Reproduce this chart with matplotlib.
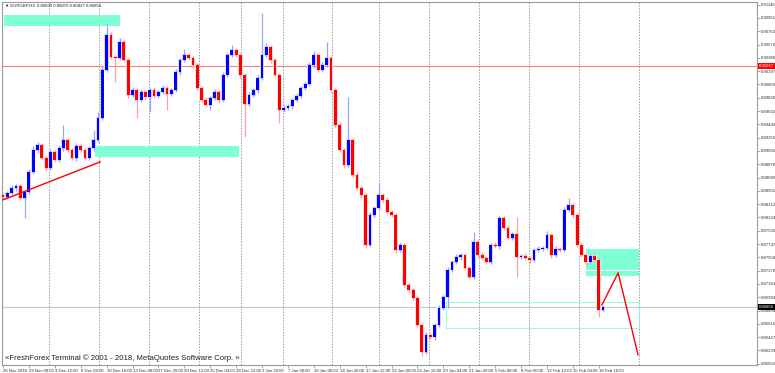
import matplotlib
matplotlib.use("Agg")
import matplotlib.pyplot as plt
from matplotlib.patches import Rectangle

# ---------------- data ----------------
symbol_info = "\u25bc EURGBP,H4  0.86830 0.86876 0.86827 0.86856"
copyright_text = "\u00abFreshForex Terminal \u00a9 2001 - 2018, MetaQuotes Software Corp. \u00bb"

first_open = 0.88444
closes = [
    0.88415, 0.88472, 0.88543, 0.88571, 0.88401, 0.88486, 0.88770, 0.89082, 0.89152, 0.88968,
    0.88826, 0.89053, 0.88940, 0.89110, 0.89223, 0.89082, 0.88968, 0.89138, 0.89082, 0.88968,
    0.89110, 0.89223, 0.89535, 0.90215, 0.90711, 0.90399, 0.90385, 0.90612, 0.90357, 0.89861,
    0.89932, 0.89790, 0.89903, 0.89833, 0.89932, 0.89847, 0.89903, 0.89960, 0.89875, 0.89932,
    0.90187, 0.90357, 0.90428, 0.90385, 0.90286, 0.89960, 0.89790, 0.89719, 0.89818, 0.89903,
    0.89790, 0.90144, 0.90428, 0.90499, 0.90428, 0.90144, 0.89733, 0.89861, 0.89932, 0.90102,
    0.90428, 0.90541, 0.90357, 0.90144, 0.89648, 0.89677, 0.89705, 0.89790, 0.89847, 0.89960,
    0.90017, 0.90286, 0.90428, 0.90215, 0.90286, 0.90385, 0.89932, 0.89436, 0.89082, 0.88869,
    0.89223, 0.88727, 0.88543, 0.88444, 0.87735, 0.88160, 0.88260, 0.88444, 0.88373, 0.88203,
    0.88160, 0.87665, 0.87735, 0.87169, 0.87098, 0.86984, 0.86602, 0.86219, 0.86460, 0.86432,
    0.86602, 0.86843, 0.86999, 0.87381, 0.87495, 0.87565, 0.87594, 0.87409, 0.87282, 0.87778,
    0.87594, 0.87551, 0.87495, 0.87735, 0.87721, 0.88118, 0.87976, 0.87835, 0.87891, 0.87565,
    0.87580, 0.87551, 0.87523, 0.87665, 0.87679, 0.87693, 0.87877, 0.87594, 0.87679, 0.87665,
    0.88231, 0.88302, 0.88160, 0.87735, 0.87594, 0.87495, 0.87580, 0.87523, 0.86814, 0.86856,
]
# wick lengths above / below the body, in pips
upper_wick = [
    3, 3, 4, 3, 3, 3, 4, 5, 4, 3,
    3, 4, 3, 4, 21, 3, 3, 4, 3, 3,
    3, 14, 8, 4, 16, 4, 3, 6, 3, 3,
    4, 3, 4, 3, 3, 4, 3, 4, 3, 3,
    4, 3, 8, 3, 3, 3, 3, 4, 3, 4,
    3, 4, 3, 7, 3, 3, 3, 4, 3, 4,
    60, 6, 3, 3, 3, 4, 3, 3, 4, 3,
    3, 4, 5, 3, 4, 23, 3, 3, 4, 3,
    61, 3, 4, 3, 3, 4, 3, 17, 3, 4,
    3, 3, 4, 3, 3, 3, 3, 3, 4, 3,
    3, 4, 3, 4, 3, 4, 3, 3, 3, 14,
    3, 4, 3, 3, 4, 3, 3, 4, 3, 24,
    3, 4, 3, 3, 4, 3, 6, 3, 4, 3,
    4, 10, 3, 3, 4, 3, 3, 4, 3, 3,
]
lower_wick = [
    3, 3, 3, 4, 3, 28, 3, 3, 4, 3,
    4, 3, 3, 3, 4, 3, 3, 4, 3, 3,
    3, 4, 3, 3, 3, 3, 34, 3, 3, 4,
    3, 25, 3, 4, 21, 3, 3, 3, 23, 3,
    3, 4, 3, 3, 4, 3, 3, 3, 7, 3,
    4, 3, 3, 3, 3, 4, 47, 3, 3, 4,
    3, 3, 4, 3, 18, 3, 3, 4, 3, 3,
    3, 3, 4, 3, 3, 3, 4, 3, 3, 4,
    3, 3, 3, 4, 4, 3, 3, 3, 4, 3,
    3, 4, 3, 3, 4, 3, 3, 6, 3, 3,
    4, 3, 3, 16, 3, 3, 4, 3, 3, 3,
    4, 3, 3, 3, 3, 4, 3, 3, 3, 28,
    3, 3, 4, 3, 3, 3, 3, 4, 3, 3,
    3, 3, 4, 3, 3, 5, 3, 3, 10, 3,
]

time_labels = [
    "26 Nov 2018", "29 Nov 08:00", "3 Dec 12:00", "6 Dec 04:00", "10 Dec 16:00",
    "13 Dec 08:00", "17 Dec 20:00", "20 Dec 12:00", "25 Dec 04:00", "28 Dec 12:00",
    "2 Jan 20:00", "7 Jan 08:00", "10 Jan 00:00", "14 Jan 20:00", "17 Jan 12:00",
    "22 Jan 00:00", "24 Jan 16:00", "29 Jan 04:00", "31 Jan 20:00", "5 Feb 08:00",
    "8 Feb 00:00", "12 Feb 12:00", "15 Feb 04:00", "18 Feb 16:00",
]
time_label_bars = [6 * k for k in range(len(time_labels))]
week_separators = [10.7, 22.2, 33.8, 45.4, 55.1, 64.8, 76.2, 87.1, 98.7, 110.3, 121.8, 133.4, 147.3]

price_top_label = 0.91140
price_bottom_label = 0.86050
n_price_labels = 28

red_level = 0.90267
bid_price = 0.86856

# zones: (bar_start, bar_end, price_high, price_low)
filled_zones = [
    (0.2, 27.1, 0.90994, 0.90839),
    (21.3, 54.7, 0.89138, 0.88982),
    (135.0, 147.3, 0.87674, 0.87381),
    (135.0, 147.3, 0.87367, 0.87296),
]
hollow_zone = (102.6, 147.3, 0.86928, 0.86559)
trend_bars = [0.0, 22.5]
trend_prices = [0.88373, 0.88911]
zigzag_bars = [138.75, 142.5, 147.1]
zigzag_prices = [0.86885, 0.87339, 0.86177]

# ---------------- figure ----------------
FONT = ["Liberation Sans", "DejaVu Sans"]
plt.rcParams["font.family"] = FONT
SMALL = 3.1

W, H = 775, 373
fig = plt.figure(figsize=(W / 100, H / 100), dpi=100)
fig.patch.set_facecolor("white")
ax_l, ax_r, ax_t, ax_b = 2, 757, 2, 365
ax = fig.add_axes([ax_l / W, 1 - ax_b / H, (ax_r - ax_l) / W, (ax_b - ax_t) / H])
ax.set_facecolor("white")

ax.set_xlim(-0.23, 174.66)
ymin, ymax = 0.86032, 0.91178
ax.set_ylim(ymin, ymax)

for s in ax.spines.values():
    s.set_color("#9a9a9a")
    s.set_linewidth(0.8)

# weekly separators
for xs in week_separators:
    ax.axvline(xs, color="#9a9a9a", lw=0.7, ls=(0, (1.5, 1.5)), zorder=1)

# zones
for x0, x1, ph, pl in filled_zones:
    ax.add_patch(Rectangle((x0, pl), x1 - x0, ph - pl, facecolor="#7fffd4",
                           edgecolor="none", zorder=2))
hx0, hx1, hph, hpl = hollow_zone
ax.add_patch(Rectangle((hx0, hpl), hx1 - hx0, hph - hpl, facecolor="none",
                       edgecolor="#7fffd4", lw=0.6, zorder=2))

# horizontal levels
ax.axhline(red_level, color="#ff7f7f", lw=0.8, zorder=2)
ax.axhline(bid_price, color="#c8c8c8", lw=0.8, zorder=2)

# candles
opens = [first_open] + closes[:-1]
for i, (o, c) in enumerate(zip(opens, closes)):
    up = c >= o
    col = "#0000ff" if up else "#ff0000"
    light = "#a0a0ff" if up else "#ffa0a0"
    halo = "#dcdcff" if up else "#ffdcdc"
    hi = max(o, c) + upper_wick[i] * 0.0001
    lo = min(o, c) - lower_wick[i] * 0.0001
    h = c - o
    if abs(h) < 0.00004:
        h = 0.00004 if up else -0.00004
    bmin = min(o, o + h)
    ax.bar(i, abs(h) + 0.00035, bottom=bmin - 0.000175, width=1.0, color=halo,
           linewidth=0, zorder=2.5)
    ax.vlines(i, lo, hi, color=light, lw=0.9, zorder=3)
    ax.bar(i, h, bottom=o, width=0.65, color=col, linewidth=0, zorder=4)

# drawn lines
ax.plot(trend_bars, trend_prices, color="#ff0000", lw=1.0, zorder=5)
ax.plot(zigzag_bars, zigzag_prices, color="#ff0000", lw=1.0, zorder=5)

# axes ticks / labels
step = (price_top_label - price_bottom_label) / (n_price_labels - 1)
yt = [price_top_label - k * step for k in range(n_price_labels)]
ax.yaxis.tick_right()
ax.set_yticks(yt)
ax.set_yticklabels([f"{v:.5f}" for v in yt])
ax.tick_params(axis="y", direction="out", length=2.0, width=0.6, color="#9a9a9a",
               labelsize=SMALL, labelcolor="#303030", pad=0.8)
ax.set_xticks(time_label_bars)
ax.set_xticklabels(time_labels, ha="left")
ax.tick_params(axis="x", direction="out", length=2.0, width=0.6, color="#9a9a9a",
               labelsize=SMALL, labelcolor="#303030", pad=0.6)

# price tags on the right axis
for price, bg in ((red_level, "#ff0000"), (bid_price, "#000000")):
    ax.annotate(f"{price:.5f}", xy=(1.0, price), xycoords=("axes fraction", "data"),
                xytext=(1.2, 0), textcoords="offset points", ha="left", va="center",
                fontsize=SMALL, color="white", annotation_clip=False,
                bbox=dict(boxstyle="square,pad=0.2", facecolor=bg, edgecolor="none"),
                zorder=10)

# texts
fig.text(5 / W, 1 - 6 / H, symbol_info, fontsize=3.1, color="#202020",
         ha="left", va="center", family=FONT)
fig.text(5 / W, 1 - 358 / H, copyright_text, fontsize=5.6, color="#202020",
         ha="left", va="center", family=FONT)

fig.savefig("out.png", dpi=100, facecolor="white")
